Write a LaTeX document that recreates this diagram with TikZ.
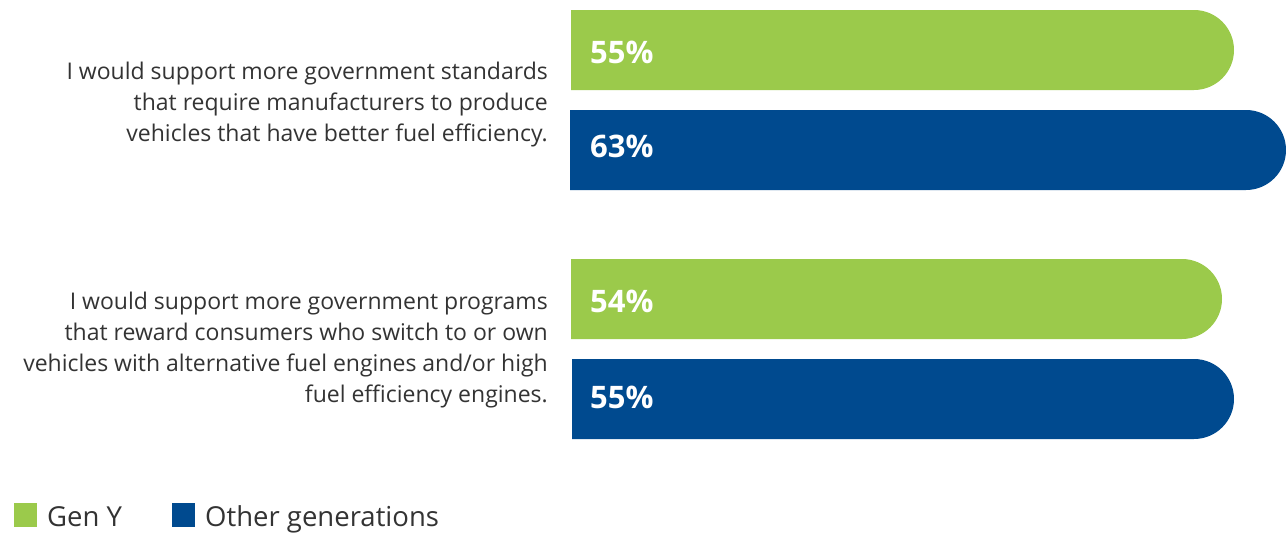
\documentclass[tikz,border=0pt]{standalone}
\usepackage{fontspec}
\setmainfont{Open Sans}
\usetikzlibrary{positioning}

\definecolor{genY}{RGB}{155,202,75}
\definecolor{otherGen}{RGB}{0,74,143}
\definecolor{labelGray}{RGB}{51,51,51}

\tikzset{
  question/.style={anchor=east, align=right, text=labelGray, font=\fontsize{23}{31}\selectfont, inner sep=0pt},
  pct/.style={anchor=base west, text=white, font=\fontsize{31}{33}\selectfont\bfseries, inner sep=0pt},
  legendtext/.style={anchor=base west, text=labelGray, font=\fontsize{27.5}{30}\selectfont, inner sep=0pt},
}

\begin{document}
\begin{tikzpicture}[x=1pt,y=1pt,yscale=-1,xscale=1]
\useasboundingbox (0,0) rectangle (1286,533);

%Shape: Bar Gen Y, standards
\fill [genY] (571,10) -- (1194,10) arc [start angle=-90, end angle=90, radius=40] -- (571,90) -- cycle ;
%Shape: Bar Other, standards
\fill [otherGen] (570,110) -- (1246,110) arc [start angle=-90, end angle=90, radius=40] -- (570,190) -- cycle ;
%Shape: Bar Gen Y, programs
\fill [genY] (571,259) -- (1182,259) arc [start angle=-90, end angle=90, radius=40] -- (571,339) -- cycle ;
%Shape: Bar Other, programs
\fill [otherGen] (572,359) -- (1194,359) arc [start angle=-90, end angle=90, radius=40] -- (572,439) -- cycle ;

% Text Node
\node [pct] (p1) at (590,63) {55\%};
% Text Node
\node [pct] (p2) at (590,157) {63\%};
% Text Node
\node [pct] (p3) at (590,312) {54\%};
% Text Node
\node [pct] (p4) at (590,408) {55\%};

% Text Node
\node [question] (q1) at (548,105) {I would support more government standards\\that require manufacturers to produce\\vehicles that have better fuel efficiency.};
% Text Node
\node [question] (q2) at (548,350) {I would support more government programs\\that reward consumers who switch to or own\\vehicles with alternative fuel engines and/or high\\fuel efficiency engines.};

%Shape: Legend
\fill [genY] (14,503) rectangle (37,527) ;
\node [legendtext] (lg1) at (47,526) {Gen Y};
\fill [otherGen] (172,503) rectangle (195,527) ;
\node [legendtext] (lg2) at (205,526) {Other generations};

\end{tikzpicture}
\end{document}
